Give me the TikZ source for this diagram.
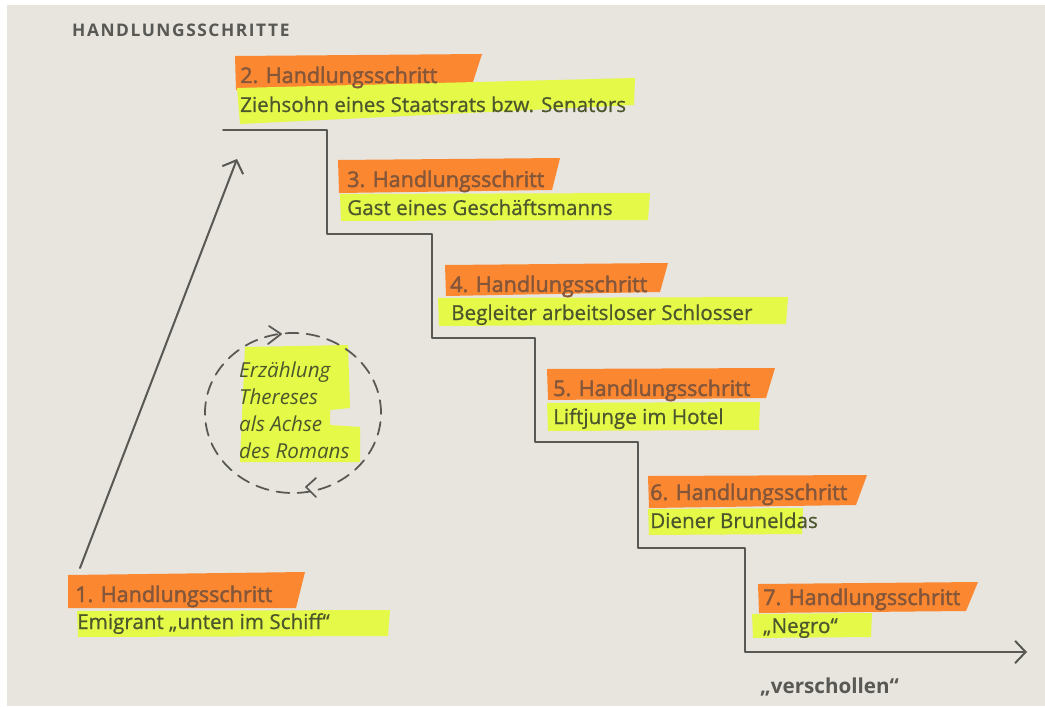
\documentclass[tikz,border=0pt]{standalone}
\usepackage{fontspec}
\setmainfont{Open Sans}
\newfontfamily\headfont[FakeBold=2.2]{Open Sans}
\newfontfamily\descfont[FakeBold=0.7]{Open Sans}
\newfontfamily\capsfont[LetterSpace=9]{Open Sans}
\usetikzlibrary{arrows.meta}

\definecolor{paper}{RGB}{232,228,222}
\definecolor{ink}{RGB}{88,88,84}
\definecolor{markorange}{RGB}{251,136,48}
\definecolor{markyellow}{RGB}{228,249,72}
\definecolor{headink}{RGB}{132,86,58}
\definecolor{descink}{RGB}{76,86,44}

\tikzset{
  stair/.style={draw=ink,line width=1.7pt},
  head/.style={anchor=base west,inner sep=0pt,text=headink,font=\headfont\fontsize{18.4}{22}\selectfont},
  desc/.style={anchor=base west,inner sep=0pt,text=descink,font=\descfont\fontsize{17.6}{21}\selectfont},
  barb/.style={-{Straight Barb[length=9pt,width=19pt,line width=1.7pt]}},
}

\begin{document}
\begin{tikzpicture}[line cap=round,line join=round,x=0.03cm,y=-0.03cm]
\fill[white] (0,0) rectangle (1045,706);
\fill[paper] (7,5) rectangle (1045,706);
\useasboundingbox (0,0) rectangle (1045,706);

% marker strokes
\fill[markorange] (68,575) -- (305,572) -- (296,608) -- (68,608) -- cycle;
\fill[markyellow] (77,611) -- (390,610) -- (388,636) -- (78,637) -- cycle;
\fill[markorange] (235,56) -- (482,54) -- (472,85) -- (236,90) -- cycle;
\fill[markyellow] (237,88) -- (635,78) -- (634,105) -- (240,124) -- cycle;
\fill[markorange] (338,160) -- (560,158) -- (552,190) -- (339,193) -- cycle;
\fill[markyellow] (340,194) -- (650,193) -- (648,220) -- (341,221) -- cycle;
\fill[markorange] (445,265) -- (668,263) -- (660,292) -- (446,296) -- cycle;
\fill[markyellow] (438,298) -- (788,297) -- (786,324) -- (439,326) -- cycle;
\fill[markorange] (547,369) -- (775,368) -- (766,398) -- (548,400) -- cycle;
\fill[markyellow] (547,403) -- (760,402) -- (759,430) -- (548,431) -- cycle;
\fill[markorange] (648,476) -- (867,475) -- (856,505) -- (649,508) -- cycle;
\fill[markyellow] (648,509) -- (803,508) -- (802,534) -- (649,535) -- cycle;
\fill[markorange] (758,584) -- (978,582) -- (966,611) -- (759,613) -- cycle;
\fill[markyellow] (752,614) -- (872,613) -- (871,637) -- (753,638) -- cycle;
\fill[markyellow] (245,347) -- (348,345) -- (350,408) -- (330,410) -- (330,425)
  -- (360,427) -- (360,462) -- (240,462) -- cycle;

\node[anchor=base west,inner sep=0pt,text=ink,font=\capsfont\bfseries\fontsize{14.8}{18}\selectfont] (title) at (72,37) {HANDLUNGSSCHRITTE};

\node[head] (h1) at (75,602) {1. Handlungsschritt};
\node[desc] (d1) at (77,629) {Emigrant „unten im Schiff“};
\node[head] (h2) at (240,83) {2. Handlungsschritt};
\node[desc] (d2) at (240,112) {Ziehsohn eines Staatsrats bzw. Senators};
\node[head] (h3) at (347,187) {3. Handlungsschritt};
\node[desc] (d3) at (347,215) {Gast eines Geschäftsmanns};
\node[head] (h4) at (450,292) {4. Handlungsschritt};
\node[desc] (d4) at (451,320) {Begleiter arbeitsloser Schlosser};
\node[head] (h5) at (553,396) {5. Handlungsschritt};
\node[desc] (d5) at (553,424) {Liftjunge im Hotel};
\node[head] (h6) at (650,500) {6. Handlungsschritt};
\node[desc] (d6) at (650,528) {Diener Bruneldas};
\node[head] (h7) at (763,605) {7. Handlungsschritt};
\node[desc] (d7) at (763,633) {„Negro“};
\node[anchor=base west,inner sep=0pt,text=ink,font=\bfseries\fontsize{17.6}{21}\selectfont] (lost) at (760,693) {„verschollen“};

% the steps down
\coordinate (top) at (223,130);
\coordinate (out) at (1027,652);
\draw[stair,barb] (top) -- (327,130) -- (327,234) -- (432,234) -- (432,338)
  -- (535,338) -- (535,442) -- (638,442) -- (638,548) -- (745,548) -- (745,652) -- (out);
\coordinate (rise) at (80,568);
\draw[stair,barb] (rise) -- (237,159);

% Therese in the middle
\node[anchor=north west,inner sep=0pt,align=left,text=descink,
  font=\itshape\fontsize{17.6}{23}\selectfont] (axis) at (239,362)
  {Erzählung\\Thereses\\als Achse\\des Romans};
\draw[ink,line width=1.5pt,dash pattern=on 11pt off 7pt] (293,413) ellipse [x radius=2.64cm, y radius=2.4cm];
\draw[ink,line width=1.5pt] (269,326) -- (281,334) -- (268,344);
\draw[ink,line width=1.5pt] (316,478) -- (306,487) -- (316,497);
\end{tikzpicture}
\end{document}
